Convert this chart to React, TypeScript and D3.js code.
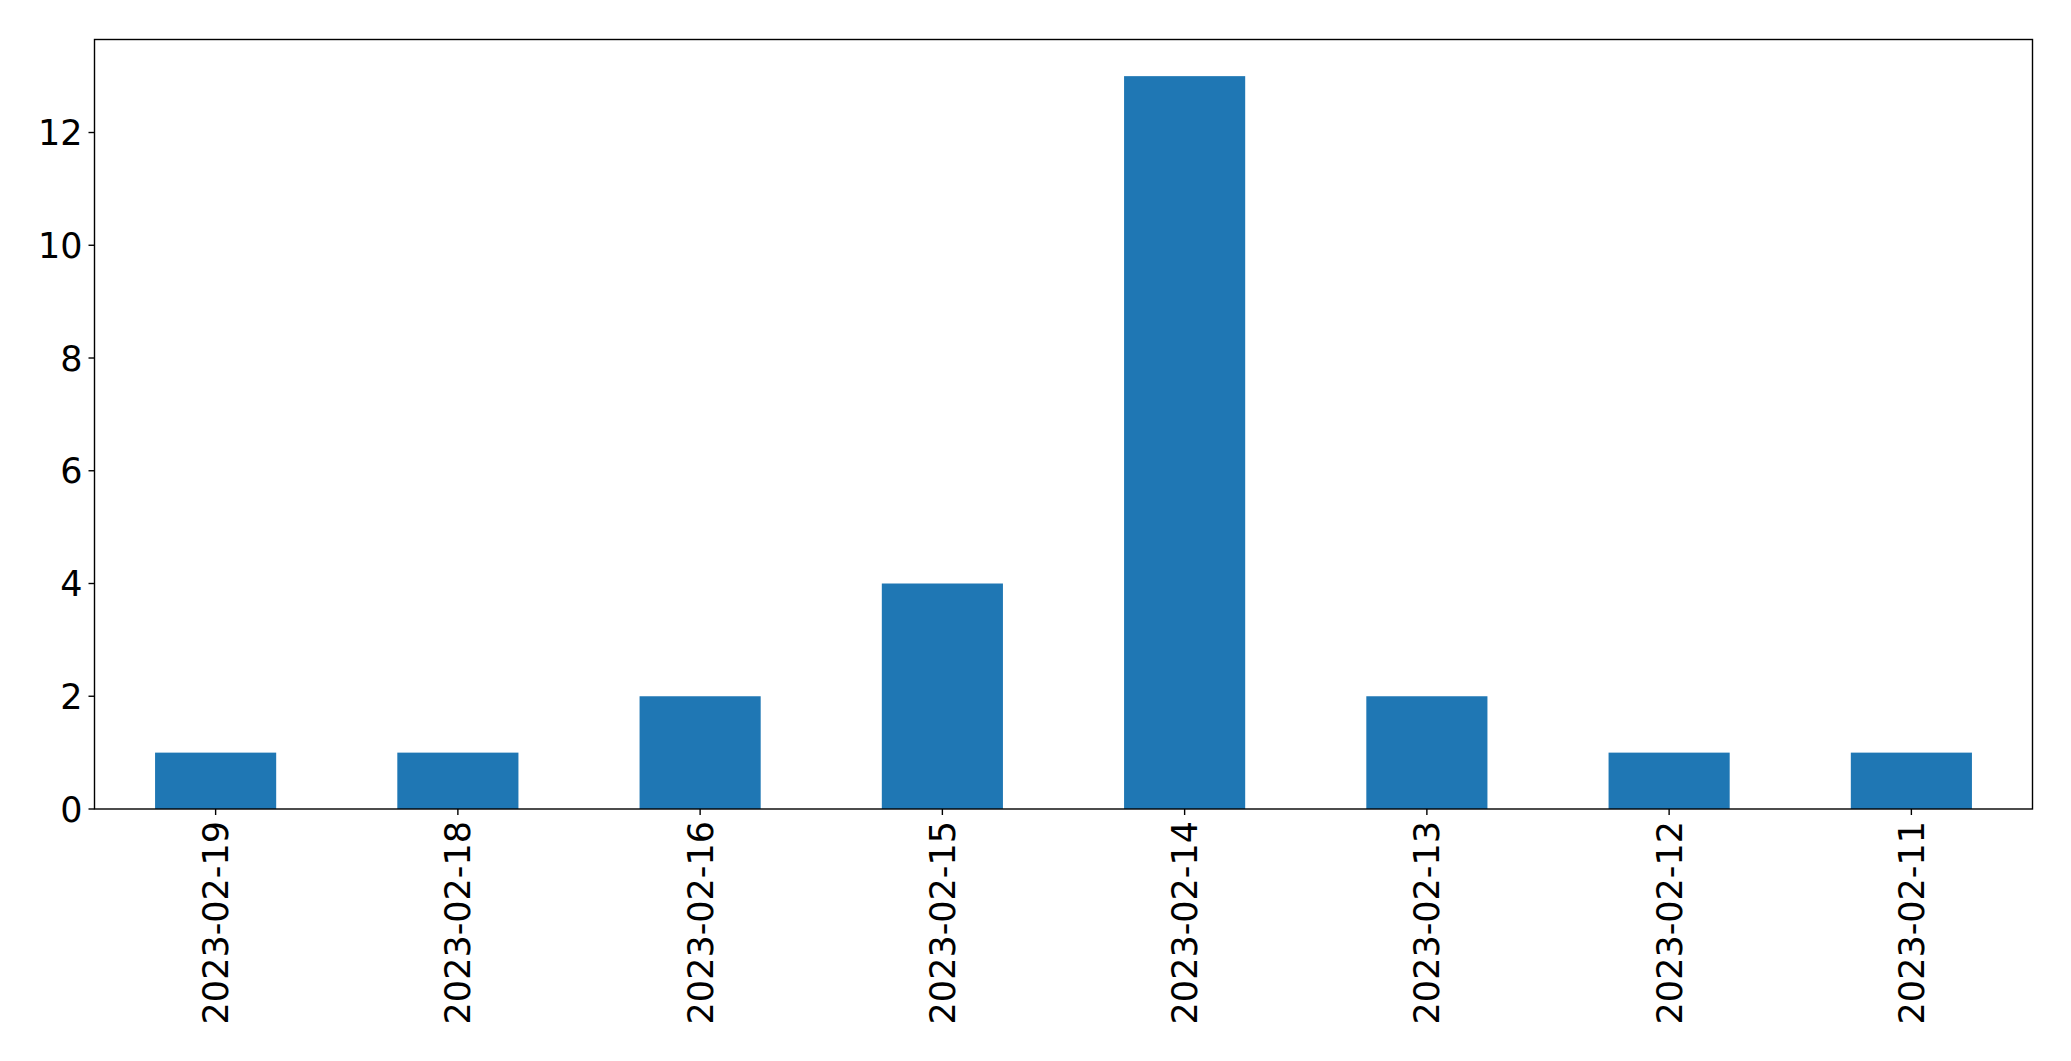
import React from "react";
import * as d3 from "d3";

const categories = ["2023-02-19", "2023-02-18", "2023-02-16", "2023-02-15", "2023-02-14", "2023-02-13", "2023-02-12", "2023-02-11"];
const counts = [1, 1, 2, 4, 13, 2, 1, 1];
const yTicks = [0, 2, 4, 6, 8, 10, 12];

const W = 2071;
const H = 1061;
const left = 94.5;
const right = 2032.5;
const top = 39.5;
const bottom = 809;
const FONT = "'DejaVu Sans', sans-serif";
const FS = 35;

export default function App() {
  const x = d3.scaleBand<string>().domain(categories).range([left, right]).paddingInner(0.5).paddingOuter(0.25);
  const yMax = d3.max(counts)! * 1.05;
  const y = d3.scaleLinear().domain([0, yMax]).range([bottom, top]);
  const center = (c: string) => x(c)! + x.bandwidth() / 2;

  return (
    <svg width={W} height={H} style={{ position: "absolute", left: 0, top: 0, background: "#fff" }}>
      <rect x={0} y={0} width={W} height={H} fill="#fff" />
      {categories.map((c, i) => (
        <rect key={c} x={x(c)} y={y(counts[i])} width={x.bandwidth()} height={bottom - y(counts[i])} fill="#1f77b4" />
      ))}
      <rect x={left} y={top} width={right - left} height={bottom - top} fill="none" stroke="#000" strokeWidth={1.4} />
      {yTicks.map((t) => (
        <g key={t}>
          <line x1={left - 6} x2={left} y1={y(t)} y2={y(t)} stroke="#000" strokeWidth={1.4} />
          <text x={left - 12} y={y(t)} dy="0.36em" textAnchor="end" fontFamily={FONT} fontSize={FS} fill="#000">
            {t}
          </text>
        </g>
      ))}
      {categories.map((c) => (
        <g key={c}>
          <line x1={center(c)} x2={center(c)} y1={bottom} y2={bottom + 6} stroke="#000" strokeWidth={1.4} />
          <text
            transform={`translate(${center(c)},${bottom + 12}) rotate(-90)`}
            dy="0.36em"
            textAnchor="end"
            fontFamily={FONT}
            fontSize={FS}
            fill="#000"
          >
            {c}
          </text>
        </g>
      ))}
    </svg>
  );
}
